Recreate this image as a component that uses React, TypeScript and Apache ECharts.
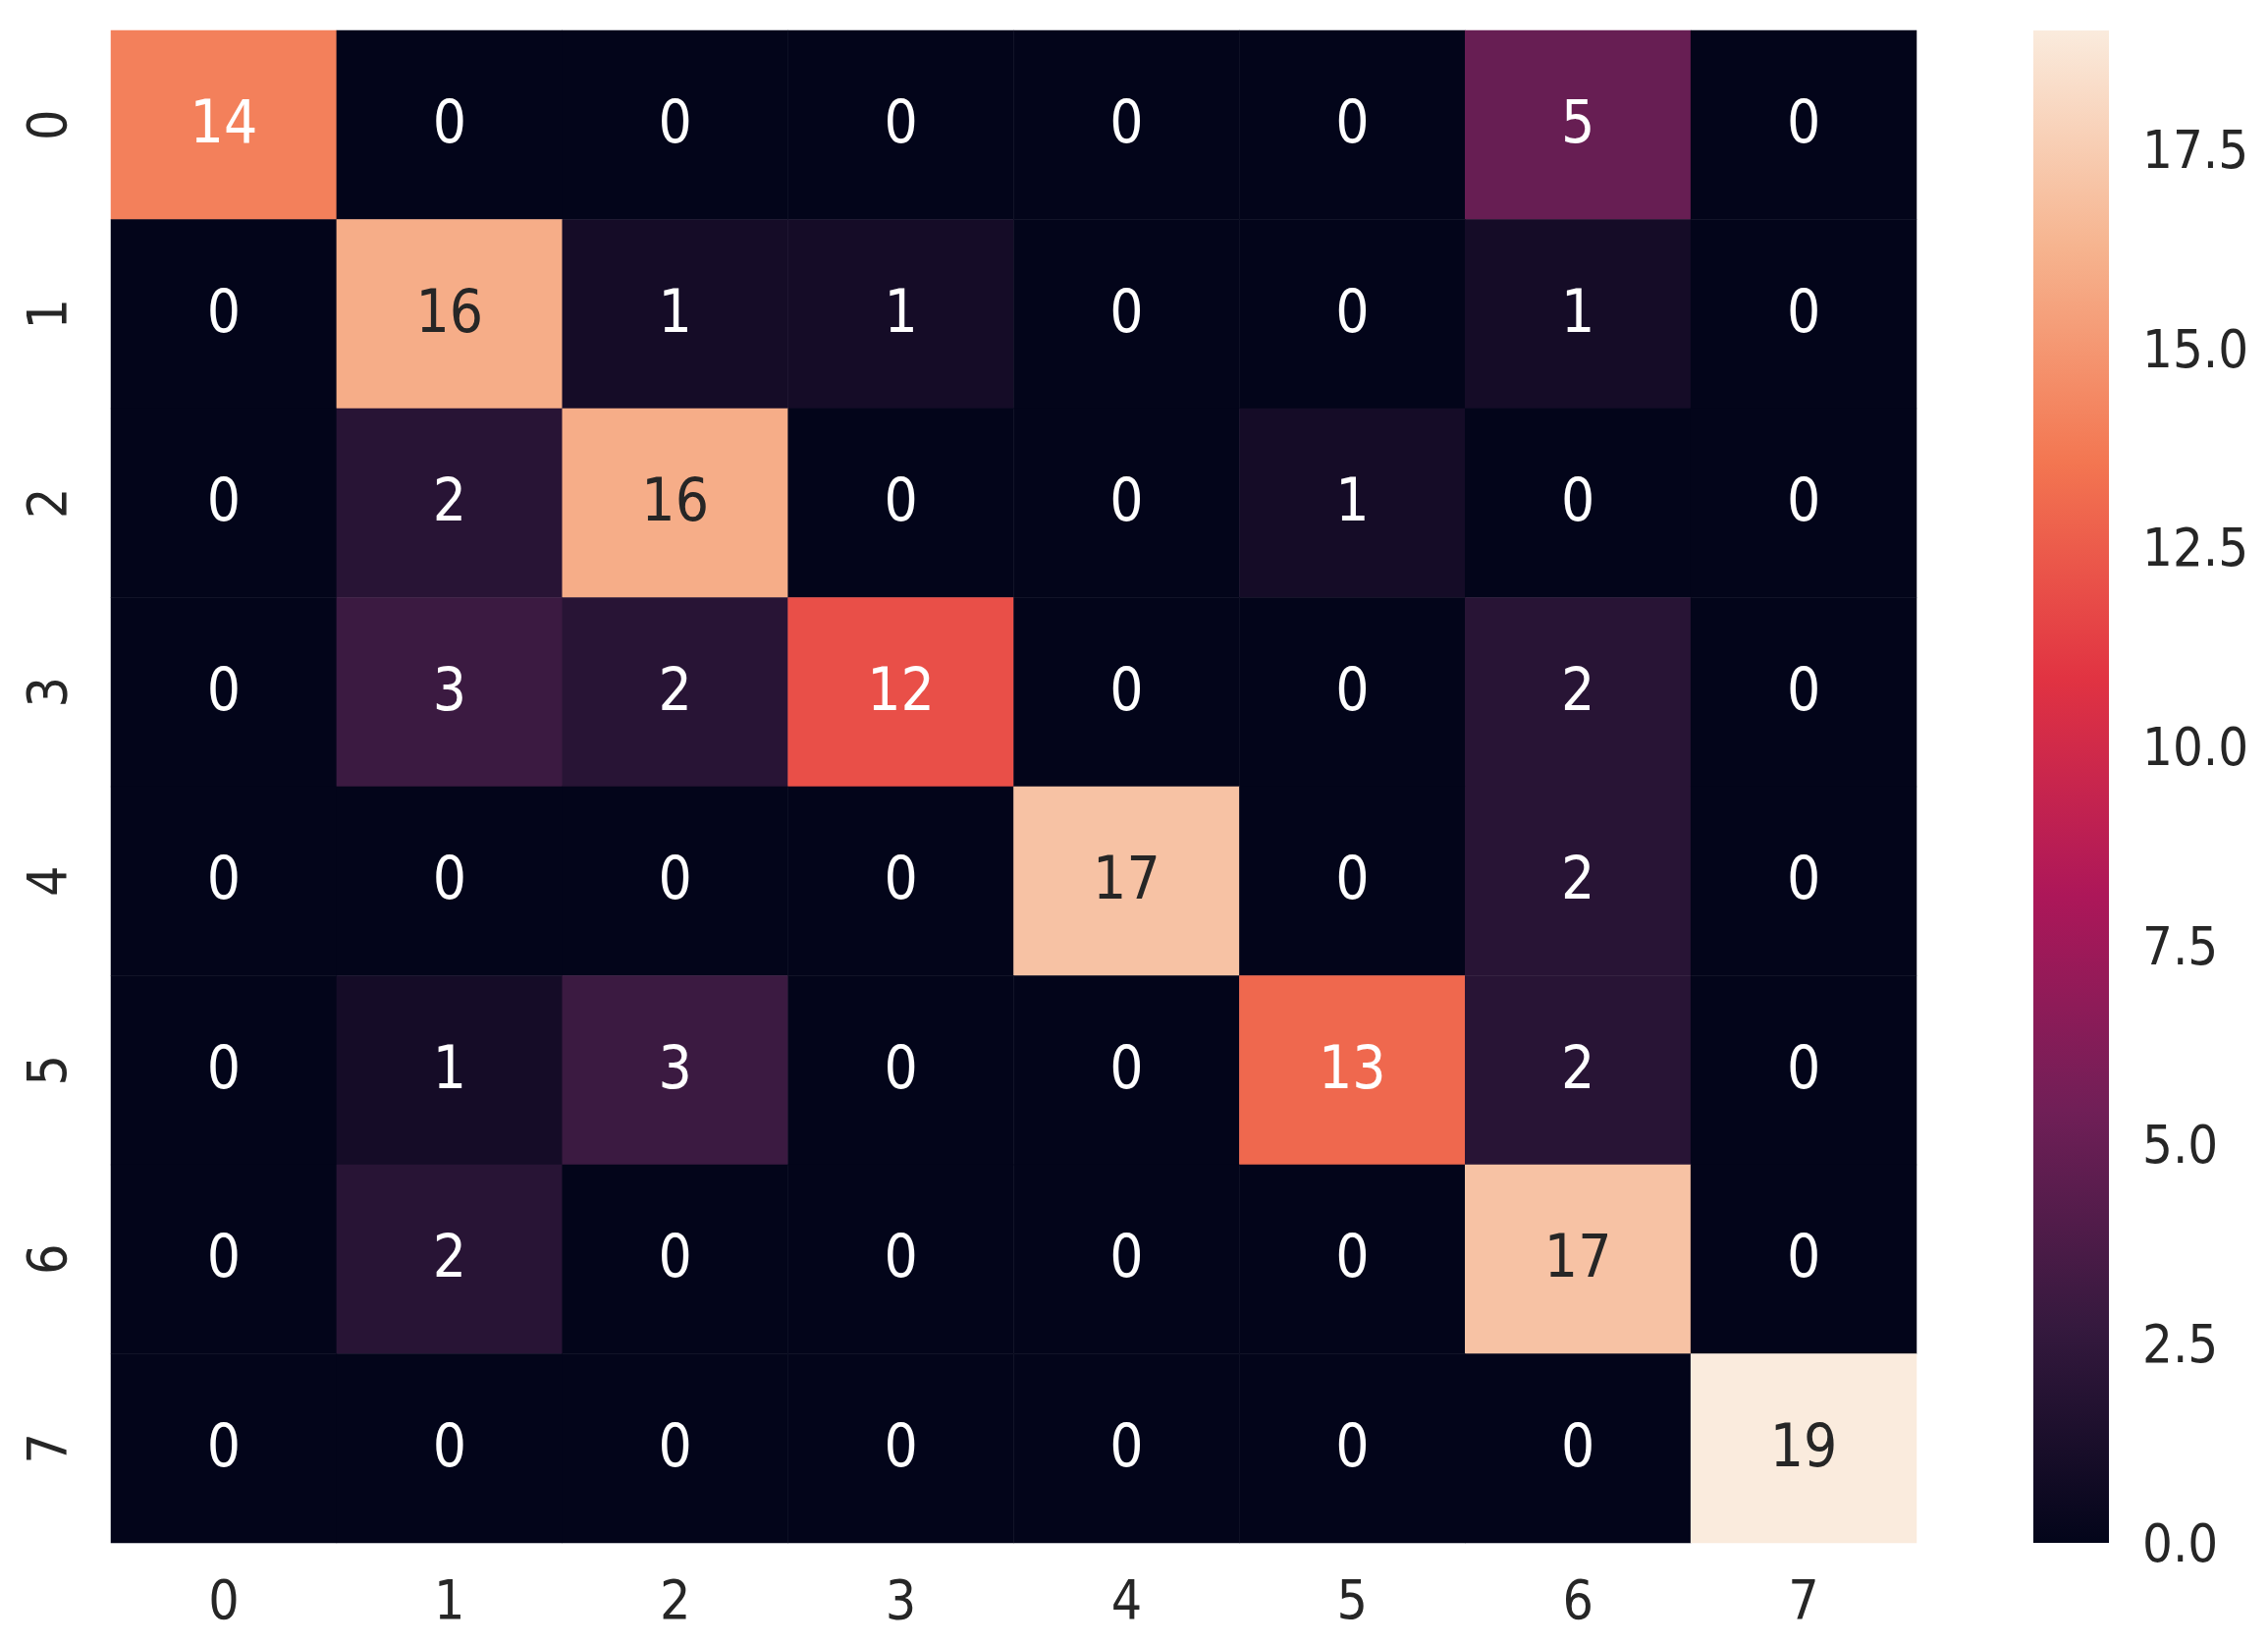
import React, { useEffect, useRef } from "react";
import * as echarts from "echarts";

const classLabels = ["0", "1", "2", "3", "4", "5", "6", "7"];
const row0 = [14, 0, 0, 0, 0, 0, 5, 0];
const row1 = [0, 16, 1, 1, 0, 0, 1, 0];
const row2 = [0, 2, 16, 0, 0, 1, 0, 0];
const row3 = [0, 3, 2, 12, 0, 0, 2, 0];
const row4 = [0, 0, 0, 0, 17, 0, 2, 0];
const row5 = [0, 1, 3, 0, 0, 13, 2, 0];
const row6 = [0, 2, 0, 0, 0, 0, 17, 0];
const row7 = [0, 0, 0, 0, 0, 0, 0, 19];
const matrix = [row0, row1, row2, row3, row4, row5, row6, row7];

const rocketStops = ["#03051a", "#35193e", "#701f57", "#ad1759", "#e13342", "#f37651", "#f6b48f", "#faebdd"];
const colorMin = 0;
const colorMax = 19;
const colorbarInterval = 2.5;

const FONT = "'DejaVu Sans Condensed', 'DejaVu Sans', sans-serif";
const TEXT = "#262626";

export default function App() {
  const ref = useRef<HTMLDivElement>(null);
  useEffect(() => {
    document.body.style.margin = "0";
    const chart = echarts.init(ref.current!, null, { renderer: "svg" });
    const data: any[] = [];
    matrix.forEach((row, y) =>
      row.forEach((v, x) =>
        data.push({ value: [x, y, v], label: { color: v >= 15 ? TEXT : "#ffffff" } })
      )
    );
    const n = rocketStops.length - 1;
    const gradStops = rocketStops
      .map((c, i) => ({ offset: 1 - i / n, color: c }))
      .reverse();
    chart.setOption({
      animation: false,
      backgroundColor: "#ffffff",
      textStyle: { fontFamily: FONT },
      grid: [
        { left: 113, top: 31, width: 1839, height: 1540 },
        { left: 2071, top: 31, width: 77, height: 1540 },
      ],
      xAxis: [
        {
          type: "category",
          gridIndex: 0,
          data: classLabels,
          axisLine: { show: false },
          axisTick: { show: false },
          splitLine: { show: false },
          axisLabel: { fontSize: 55, color: TEXT, margin: 30, fontFamily: FONT },
        },
        {
          type: "category",
          gridIndex: 1,
          data: ["cb"],
          show: false,
        },
      ],
      yAxis: [
        {
          type: "category",
          gridIndex: 0,
          data: classLabels,
          inverse: true,
          axisLine: { show: false },
          axisTick: { show: false },
          splitLine: { show: false },
          axisLabel: { fontSize: 55, color: TEXT, margin: 38, rotate: 90, fontFamily: FONT },
        },
        {
          type: "value",
          gridIndex: 1,
          position: "right",
          min: colorMin,
          max: colorMax,
          interval: colorbarInterval,
          axisLine: { show: false },
          axisTick: { show: false },
          splitLine: { show: false },
          axisLabel: {
            fontSize: 54,
            color: TEXT,
            margin: 34,
            showMaxLabel: false,
            fontFamily: FONT,
            formatter: (v: number) => v.toFixed(1),
          },
        },
      ],
      visualMap: {
        show: false,
        type: "continuous",
        min: colorMin,
        max: colorMax,
        seriesIndex: 0,
        dimension: 2,
        inRange: { color: rocketStops },
      },
      series: [
        {
          type: "heatmap",
          xAxisIndex: 0,
          yAxisIndex: 0,
          data,
          itemStyle: { borderWidth: 0 },
          label: { show: true, fontSize: 60, fontFamily: FONT, offset: [0, -3] },
          emphasis: { disabled: true },
        },
        {
          type: "bar",
          xAxisIndex: 1,
          yAxisIndex: 1,
          data: [colorMax],
          barWidth: "100%",
          silent: true,
          itemStyle: { color: new echarts.graphic.LinearGradient(0, 0, 0, 1, gradStops) },
        },
      ],
    });
    return () => chart.dispose();
  }, []);
  return <div ref={ref} style={{ width: 2310, height: 1675 }} />;
}
